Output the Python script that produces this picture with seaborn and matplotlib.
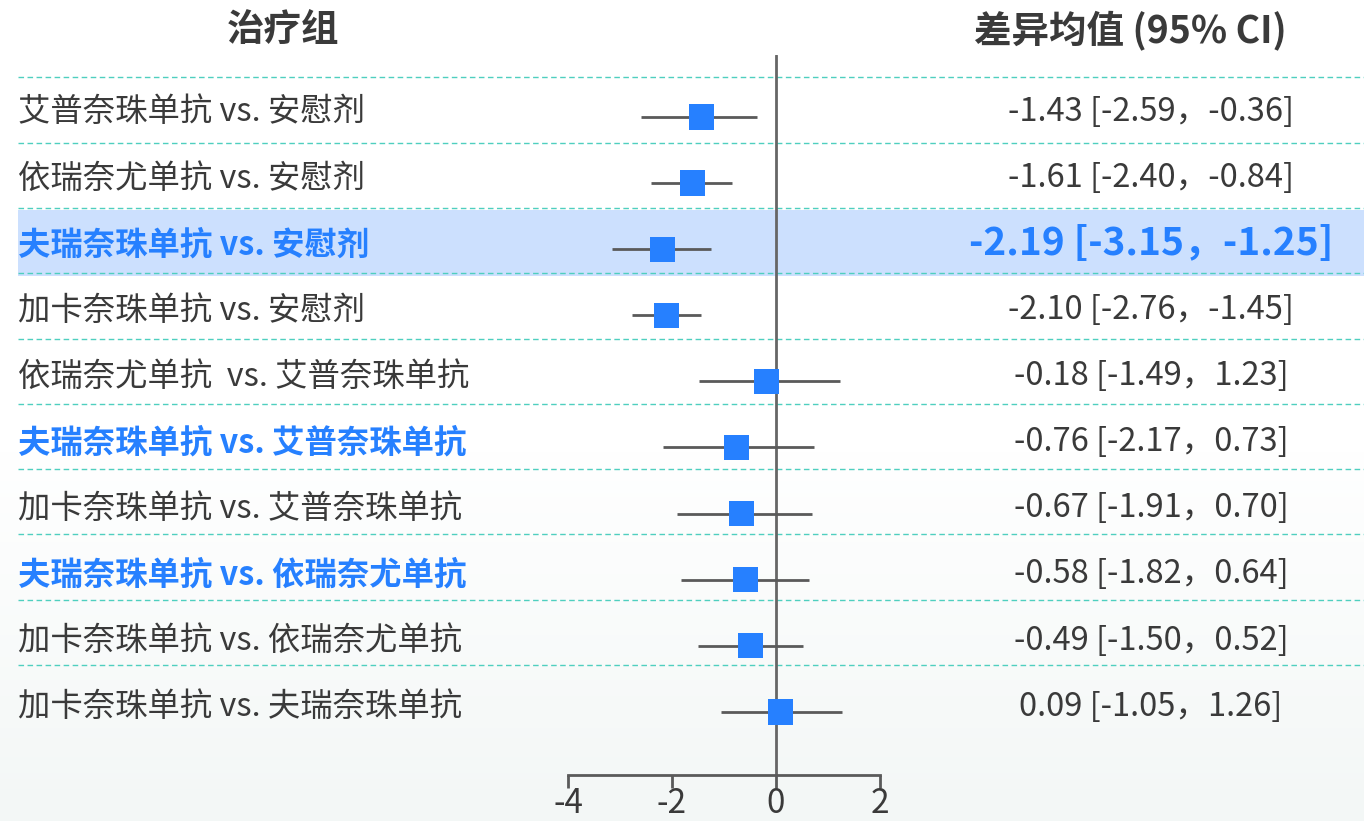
import numpy as np
import pandas as pd
import matplotlib
matplotlib.use("Agg")
import matplotlib.pyplot as plt
import matplotlib.transforms as mtransforms
import seaborn as sns

# ---- data ----
comparisons = [
    "艾普奈珠单抗 vs. 安慰剂",
    "依瑞奈尤单抗 vs. 安慰剂",
    "夫瑞奈珠单抗 vs. 安慰剂",
    "加卡奈珠单抗 vs. 安慰剂",
    "依瑞奈尤单抗  vs. 艾普奈珠单抗",
    "夫瑞奈珠单抗 vs. 艾普奈珠单抗",
    "加卡奈珠单抗 vs. 艾普奈珠单抗",
    "夫瑞奈珠单抗 vs. 依瑞奈尤单抗",
    "加卡奈珠单抗 vs. 依瑞奈尤单抗",
    "加卡奈珠单抗 vs. 夫瑞奈珠单抗",
]
mean_diff = [-1.43, -1.61, -2.19, -2.10, -0.18, -0.76, -0.67, -0.58, -0.49, 0.09]
ci_low = [-2.59, -2.40, -3.15, -2.76, -1.49, -2.17, -1.91, -1.82, -1.50, -1.05]
ci_high = [-0.36, -0.84, -1.25, -1.45, 1.23, 0.73, 0.70, 0.64, 0.52, 1.26]
emphasised_labels = [2, 5, 7]
highlight_row = 2
x_ticks = [-4, -2, 0, 2]

df = pd.DataFrame({
    "comparison": comparisons,
    "md": mean_diff,
    "lo": ci_low,
    "hi": ci_high,
})
df["row"] = np.arange(len(df))

# ---- style ----
sns.set_theme(style="white")
plt.rcParams["font.family"] = ["Noto Sans CJK SC", "DejaVu Sans"]
plt.rcParams["axes.unicode_minus"] = False

BLUE = "#2680ff"
TEXT = "#3a3a3a"
GRID = "#4fcfbf"
BAND = "#cce0fe"

W, H = 1364, 821
fig = plt.figure(figsize=(W / 100, H / 100), dpi=100)

# soft background fade towards the bottom
bg = fig.add_axes([0, 0, 1, 1], zorder=-10)
t = np.clip((np.linspace(0, 1, 256) - 0.55) / 0.45, 0, 1)[:, None]
bottom_col = np.array([243, 247, 246]) / 255.0
grad = (1 - t)[..., None] * np.ones(3) + t[..., None] * bottom_col
bg.imshow(grad, aspect="auto", extent=[0, 1, 0, 1], origin="upper")
bg.set_axis_off()

# main axes spans the whole width; x maps so that -4..2 sits in the middle
px_per_unit = 312 / 6.0
x0_px = 776
xmin = -x0_px / px_per_unit
xmax = (W - x0_px) / px_per_unit
row0_px, row_step = 117, 66.1
ax_bottom_px, ax_top_px = 775, 55
ylo = (ax_bottom_px - row0_px) / row_step
yhi = (ax_top_px - row0_px) / row_step

ax = fig.add_axes([0, 1 - ax_bottom_px / H, 1, (ax_bottom_px - ax_top_px) / H])
ax.set_facecolor("none")
ax.set_xlim(xmin, xmax)
ax.set_ylim(ylo, yhi)

blend = mtransforms.blended_transform_factory(ax.transAxes, ax.transData)
left_frac = 18 / W

# highlighted band and dashed separators
sep_off = 0.6
ax.axhspan(highlight_row - sep_off, highlight_row + 1 - sep_off,
           xmin=left_frac, xmax=1, color=BAND, zorder=0, lw=0)
for r in df["row"]:
    y = r - sep_off - 0.012 * r
    ax.plot([left_frac, 1], [y, y], transform=blend,
            color=GRID, lw=1.0, ls=(0, (4, 2.5)), zorder=1, clip_on=False)

# reference line at zero
ax.axvline(0, color="#666666", lw=2, zorder=2)

# confidence intervals and point estimates
ax.hlines(df["row"], df["lo"], df["hi"], color="#5a5a5a", lw=2, zorder=3)
sns.scatterplot(data=df, x="md", y="row", marker="s", s=330, color=BLUE,
                edgecolor="none", linewidth=0, zorder=4, ax=ax, legend=False)

# left-hand comparison labels
for r, name in zip(df["row"], df["comparison"]):
    emph = r in emphasised_labels
    ax.text(left_frac, r - 0.07, name, transform=blend, ha="left", va="center",
            fontsize=23.3, fontweight="bold" if emph else "normal",
            color=BLUE if emph else TEXT)

# right-hand effect sizes
for r, m, lo, hi in zip(df["row"], df["md"], df["lo"], df["hi"]):
    label = f"{m:.2f} [{lo:.2f}，{hi:.2f}]"
    emph = r == highlight_row
    ax.text(1151 / W, r - 0.08, label, transform=blend, ha="center", va="center",
            fontsize=28 if emph else 23.5, fontweight="bold" if emph else "normal",
            color=BLUE if emph else TEXT)

# column headers
fig.text(283 / W, 1 - 30 / H, "治疗组", ha="center", va="center",
         fontsize=27, fontweight="bold", color=TEXT)
fig.text(1130 / W, 1 - 30 / H, "差异均值 (95% CI)", ha="center", va="center",
         fontsize=27, fontweight="bold", color=TEXT)

# x axis only between -4 and 2
for side in ["left", "right", "top"]:
    ax.spines[side].set_visible(False)
ax.spines["bottom"].set_bounds(min(x_ticks), max(x_ticks))
ax.spines["bottom"].set_color("#5a5a5a")
ax.spines["bottom"].set_linewidth(2)
ax.set_xticks(x_ticks)
ax.set_xticklabels([str(v) for v in x_ticks], fontsize=24, color=TEXT)
ax.tick_params(axis="x", direction="out", length=9, width=2, color="#5a5a5a",
               pad=-1, bottom=True)
ax.set_yticks([])
ax.set_xlabel("")
ax.set_ylabel("")

fig.savefig("out.png", dpi=100)
